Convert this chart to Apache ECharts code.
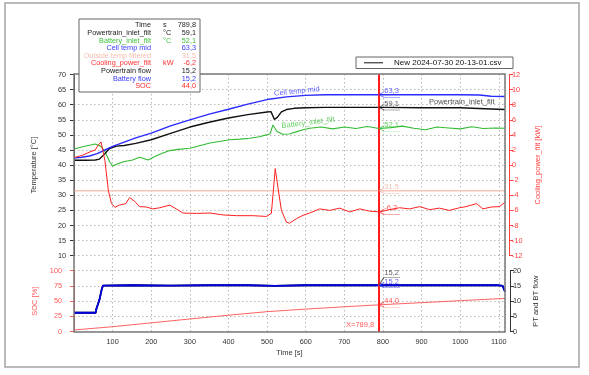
<!DOCTYPE html>
<html>
<head>
<meta charset="utf-8">
<script src="https://cdn.jsdelivr.net/npm/echarts@6/dist/echarts.min.js"></script>
<style>html,body{margin:0;padding:0;background:#fff;}#c{width:589px;height:375px;}</style>
</head>
<body>
<div id="c"></div>
<script>
// ---------- data ----------
const CURSOR_T = 789.8;

const legendNames  = ['Time','Powertrain_inlet_filt','Battery_inlet_filt','Cell temp mid','Outside temp filtered','Cooling_power_filt','Powertrain flow','Battery flow','SOC'];
const legendUnits  = ['s','°C','°C','','','kW','','',''];
const legendValues = ['789,8','59,1','52,1','63,3','31,5','-6,2','15,2','15,2','44,0'];
const legendColors = ['#222','#222','#3fc23f','#3a3aff','#f7bcae','#ff2e2e','#222','#3a3aff','#ff2e2e'];

const fileName = 'New 2024-07-30 20-13-01.csv';

const cellT = [0,20,40,60,80,100,130,160,200,250,300,350,400,450,500,550,600,650,700,800,900,1000,1050,1080,1116];
const cellV = [42.3,42.6,43.0,43.8,45.0,46.2,47.6,49.0,50.6,53.0,55.0,56.9,58.5,60.2,61.7,62.6,63.1,63.3,63.3,63.3,63.3,63.3,63.2,62.8,62.7];

const ptT = [0,30,55,66,80,92,110,130,160,200,250,300,350,400,450,500,510,519,527,537,550,570,600,650,700,800,900,1000,1080,1116];
const ptV = [41.6,41.6,41.7,42.0,43.8,45.5,46.3,46.5,47.2,48.4,50.5,52.6,54.2,55.6,56.7,57.6,57.7,55.1,55.9,57.6,58.4,58.8,59.0,59.1,59.1,59.1,59.0,59.0,58.6,58.4];

const batT = [0,20,40,55,70,80,92,100,115,130,152,170,192,212,230,248,270,300,330,352,380,403,430,455,480,498,508,515,525,540,558,575,593,610,640,670,700,730,760,790,820,850,880,910,940,970,1000,1030,1060,1090,1116];
const batV = [45.3,46.0,46.6,47.0,46.2,44.5,41.2,39.7,40.5,41.2,41.7,42.6,41.7,43.0,44.0,44.8,45.2,45.6,46.6,47.3,47.9,48.4,48.6,48.9,49.4,50.0,50.4,53.3,51.2,50.2,50.3,51.0,51.7,52.2,52.6,52.0,52.6,52.1,52.8,52.1,52.4,52.9,52.2,51.7,52.6,52.3,52.0,52.7,52.1,52.3,52.2];

const outT = [0,1116];
const outV = [31.5,31.5];

const coolT = [0,22,39,55,62,70,80,89,97,106,117,134,144,157,170,187,204,222,248,265,282,317,352,386,421,464,498,511,516,521,528,537,550,558,576,593,610,636,662,688,714,740,765,791,817,843,869,895,921,946,972,998,1015,1042,1059,1080,1102,1116];
const coolV = [1.0,1.3,1.7,2.0,2.6,3.06,0.6,-3.35,-5.1,-5.6,-5.3,-5.1,-4.3,-4.8,-5.5,-5.55,-5.8,-5.65,-5.3,-5.8,-6.35,-6.4,-6.35,-6.6,-6.7,-6.7,-6.8,-6.4,-3.5,-0.47,-2.9,-6.0,-7.55,-7.7,-7.1,-6.65,-6.35,-5.8,-6.0,-5.7,-6.2,-5.8,-6.1,-6.2,-5.9,-5.65,-5.8,-5.5,-5.9,-5.7,-6.0,-5.65,-5.5,-5.1,-5.8,-5.55,-5.5,-4.9];

const flowT = [0,56,58,62,66,72,75,150,250,350,450,520,525,600,700,800,900,1000,1100,1110,1116];
const bflowV = [6.2,6.2,7.5,9.0,10.5,14.0,15.1,15.2,15.1,15.2,15.2,15.0,15.3,15.2,15.2,15.2,15.2,15.2,15.2,15.0,13.1];
const pflowV = [6.2,6.2,7.5,9.0,10.5,14.0,15.1,15.2,15.1,15.2,15.2,15.0,15.3,15.2,15.2,15.2,15.2,15.2,15.2,15.0,13.1];

const socT = [0,100,200,300,400,500,600,700,789.8,900,1000,1116];
const socV = [2.8,8.2,14.5,20.8,27.0,32.8,37.0,40.8,44.0,47.5,50.8,54.5];

// line name labels
const nameLabels = [
  {text:'Cell temp mid', t:577, v:64.4, rot:6, color:'#3a3aff', axis:0},
  {text:'Battery_inlet_filt', t:606, v:54.0, rot:7, color:'#3fc23f', axis:0},
  {text:'Powertrain_inlet_filt', t:1004, v:60.9, rot:0, color:'#222', axis:0}
];

// ---------- helpers ----------
function zip(t, v){ return t.map((x,i)=>[x, v[i]]); }
const FONT = 'Liberation Sans';
const GRID = '#b8b8b8';

function lineSeries(name, t, v, color, width, xi, yi, z){
  return {type:'line', name, data: zip(t,v), xAxisIndex:xi, yAxisIndex:yi, symbol:'none',
    lineStyle:{color, width}, itemStyle:{color}, z: z||2, silent:true, animation:false};
}
function callout(val, text, color, xi, yi, above){
  const s = {type:'scatter', xAxisIndex:xi, yAxisIndex:yi, data:[[CURSOR_T, val]],
    symbol:'path://M5,0 L0,3 L5,5.5 L21,5.5', symbolSize:[21,5.5], symbolOffset:[10.5,-0.2],
    itemStyle:{color:'rgba(0,0,0,0)', borderColor:color, borderWidth:0.8},
    label:{show:true, position:[6,-4.5], formatter:text, color, fontSize:7.5, fontFamily:FONT},
    z:6, silent:true, animation:false};
  if (above){
    s.symbol = 'path://M0,8 L5,0 L21,0';
    s.symbolSize = [21,8];
    s.symbolOffset = [10.5,-4];
    s.label.position = [6,-8.5];
  }
  return s;
}

const series = [
  lineSeries('Outside temp filtered', outT, outV, '#f7c6b8', 1.6, 0, 0, 1),
  lineSeries('Battery_inlet_filt', batT, batV, '#33bb33', 1.1, 0, 0),
  lineSeries('Powertrain_inlet_filt', ptT, ptV, '#111', 1.4, 0, 0),
  lineSeries('Cell temp mid', cellT, cellV, '#2a2aff', 1.4, 0, 0),
  lineSeries('Cooling_power_filt', coolT, coolV, '#ff2020', 1.0, 0, 1),
  lineSeries('SOC', socT, socV, '#ff5050', 0.9, 1, 2),
  lineSeries('Powertrain flow', flowT, pflowV, '#111', 1.8, 1, 3),
  lineSeries('Battery flow', flowT, bflowV, '#0000e0', 1.8, 1, 3, 3),
  // cursor
  {type:'line', data:[[CURSOR_T,0],[CURSOR_T,1]], xAxisIndex:2, yAxisIndex:4, symbol:'none',
    lineStyle:{color:'#ff1a1a', width:2}, z:5, silent:true, animation:false},
  {type:'scatter', data:[[CURSOR_T,0]], xAxisIndex:2, yAxisIndex:4, symbolSize:0,
    label:{show:true, formatter:'X=789,8', position:[-33,-11], color:'#ff3030', fontSize:7.5, fontFamily:FONT},
    silent:true, animation:false},
  callout(63.3, legendValues[3], '#3a3aff', 0, 0),
  callout(59.1, legendValues[1], '#333', 0, 0),
  callout(52.1, legendValues[2], '#3fc23f', 0, 0),
  callout(31.5, legendValues[4], '#f3b0a0', 0, 0),
  callout(-6.2, legendValues[5], '#ff3030', 0, 1),
  callout(15.2, legendValues[6], '#333', 1, 3, true),
  callout(15.2, legendValues[7], '#3a3aff', 1, 3),
  callout(44.0, legendValues[8], '#ff3030', 1, 2)
];

nameLabels.forEach(n=>{
  series.push({type:'scatter', xAxisIndex:0, yAxisIndex:n.axis, data:[[n.t,n.v]], symbolSize:0,
    label:{show:true, position:'inside', formatter:n.text, rotate:n.rot, color:n.color, fontSize:7.5, fontFamily:FONT},
    silent:true, animation:false, z:4});
});

// ---------- graphics: frames & readout table ----------
const graphics = [
  {type:'rect', shape:{x:5, y:3, width:574, height:364}, style:{fill:'none', stroke:'#a4a4a4', lineWidth:1.5}, z:0, silent:true},
  {type:'rect', shape:{x:74, y:74, width:431, height:258}, style:{fill:'none', stroke:'#7a7a7a', lineWidth:1.5}, z:100, silent:true},
  {type:'rect', shape:{x:79, y:19, width:121, height:73}, style:{fill:'#fff', stroke:'#666', lineWidth:1}, z:101, silent:true},
  {type:'rect', shape:{x:356, y:57, width:157, height:11.5}, style:{fill:'#fff', stroke:'#666', lineWidth:1}, z:101, silent:true},
  {type:'line', shape:{x1:364, y1:62.8, x2:383, y2:62.8}, style:{stroke:'#111', lineWidth:1}, z:102, silent:true},
  {type:'text', x:394, y:62.8, style:{text:fileName, fill:'#111', font:'8px "Liberation Sans"', textVerticalAlign:'middle'}, z:102, silent:true}
];
legendNames.forEach((n,i)=>{
  const y = 25.3 + i*7.62;
  const f = '7.3px "Liberation Sans"';
  graphics.push({type:'text', x:151, y, style:{text:n, fill:legendColors[i], font:f, textAlign:'right', textVerticalAlign:'middle'}, z:102, silent:true});
  if (legendUnits[i]) graphics.push({type:'text', x:163, y, style:{text:legendUnits[i], fill:legendColors[i], font:f, textAlign:'left', textVerticalAlign:'middle'}, z:102, silent:true});
  graphics.push({type:'text', x:196, y, style:{text:legendValues[i], fill:legendColors[i], font:f, textAlign:'right', textVerticalAlign:'middle'}, z:102, silent:true});
});

// ---------- options ----------
const split = {show:true, lineStyle:{color:GRID, type:[1.5,2.5], width:1}};
const plain = v => String(v);
const opt = {
  animation:false,
  textStyle:{fontFamily:FONT},
  grid:[
    {left:74, right:84, top:74.5, height:181.2},
    {left:74, right:84, top:270.6, height:61.1},
    {left:74, right:84, top:74, bottom:43}
  ],
  xAxis:[
    {type:'value', gridIndex:0, min:0, max:1116, interval:100, axisLine:{show:false}, axisTick:{show:false}, axisLabel:{show:false}, splitLine:{show:false}},
    {type:'value', gridIndex:1, min:0, max:1116, interval:100, axisLine:{show:false}, axisTick:{show:false},
      axisLabel:{show:true, showMinLabel:false, showMaxLabel:false, color:'#333', fontSize:7.3, margin:7, formatter:plain},
      splitLine:{show:false}, name:'Time [s]', nameLocation:'middle', nameGap:17, nameTextStyle:{color:'#333', fontSize:7.5}},
    {type:'value', gridIndex:2, min:0, max:1116, interval:100, axisLine:{show:false}, axisTick:{show:false}, axisLabel:{show:false}, splitLine:split}
  ],
  yAxis:[
    {type:'value', gridIndex:0, position:'left', offset:5, min:10, max:70, interval:5,
      axisLine:{show:true, lineStyle:{color:'#333', width:1}}, axisTick:{show:true, length:4, lineStyle:{color:'#333'}},
      axisLabel:{color:'#333', fontSize:7.3, margin:3, formatter:plain}, splitLine:split,
      name:'Temperature [°C]', nameLocation:'middle', nameRotate:90, nameGap:31, nameTextStyle:{color:'#333', fontSize:7.5}},
    {type:'value', gridIndex:0, position:'right', offset:4, min:-12, max:12, interval:2,
      axisLine:{show:true, lineStyle:{color:'#ff4040', width:1}}, axisTick:{show:true, length:4, lineStyle:{color:'#ff4040'}},
      axisLabel:{color:'#ff4040', fontSize:7.3, margin:3, formatter:plain}, splitLine:{show:false},
      name:'Cooling_power_filt [kW]', nameLocation:'middle', nameRotate:90, nameGap:25, nameTextStyle:{color:'#ff4040', fontSize:7.5}},
    {type:'value', gridIndex:1, position:'left', offset:9, min:0, max:100, interval:25,
      axisLine:{show:true, lineStyle:{color:'#ff5a5a', width:1}}, axisTick:{show:true, length:4, lineStyle:{color:'#ff5a5a'}},
      axisLabel:{color:'#ff5a5a', fontSize:7.3, margin:3, formatter:plain}, splitLine:split,
      name:'SOC [%]', nameLocation:'middle', nameRotate:90, nameGap:23, nameTextStyle:{color:'#ff5a5a', fontSize:7.5}},
    {type:'value', gridIndex:1, position:'right', offset:5, min:0, max:20, interval:5,
      axisLine:{show:true, lineStyle:{color:'#333', width:1}}, axisTick:{show:true, length:4, lineStyle:{color:'#333'}},
      axisLabel:{color:'#333', fontSize:7.3, margin:3, formatter:plain}, splitLine:{show:false},
      name:'PT and BT flow', nameLocation:'middle', nameRotate:90, nameGap:22, nameTextStyle:{color:'#333', fontSize:7.5}},
    {type:'value', gridIndex:2, min:0, max:1, show:false}
  ],
  series,
  graphic: graphics
};
const chart = echarts.init(document.getElementById('c'), null, {renderer:'canvas'});
chart.setOption(opt);
</script>
</body>
</html>
